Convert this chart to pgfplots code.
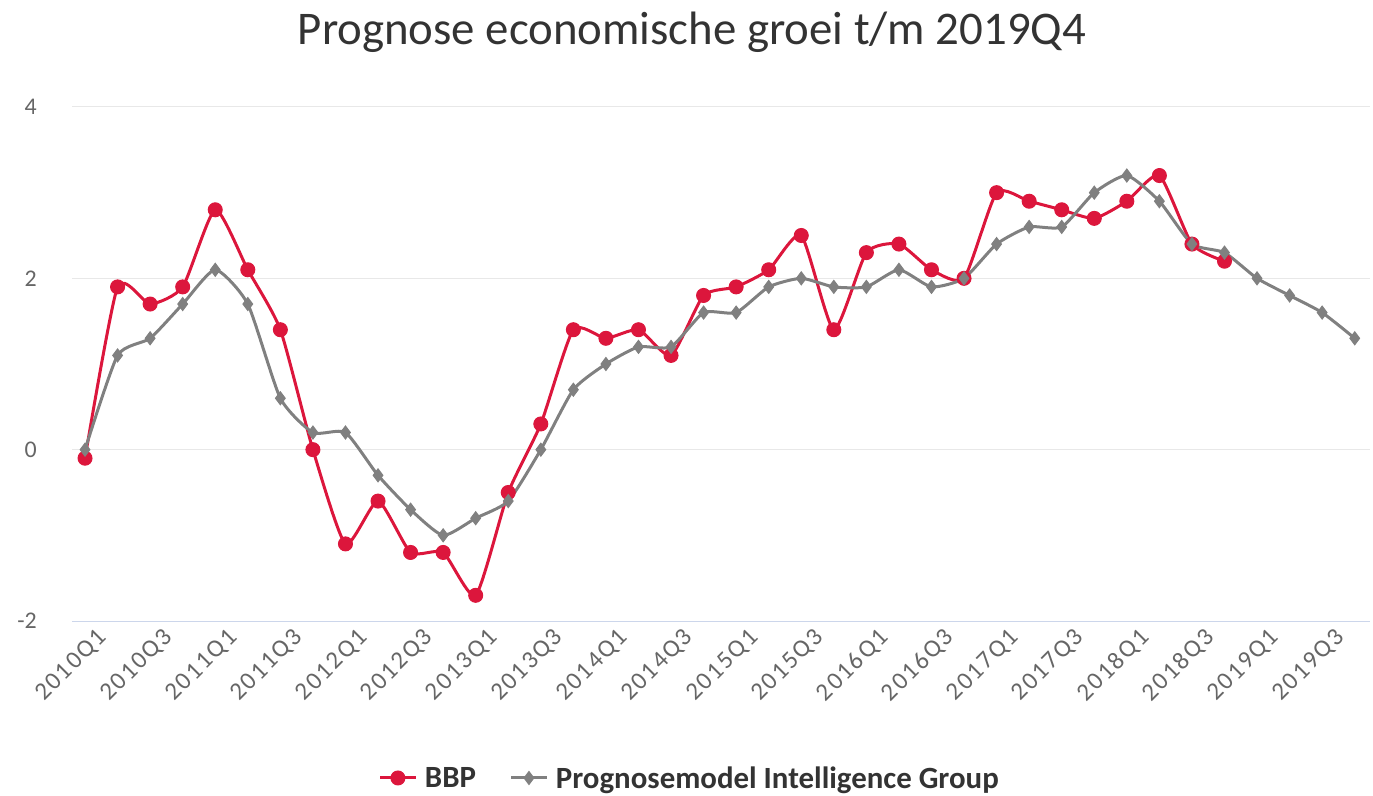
\documentclass[border=0pt]{standalone}
\usepackage{pgfplots}
\pgfplotsset{compat=1.18}
\usepackage{fontspec}
\setmainfont{Carlito}
\definecolor{bbp}{RGB}{220,22,60}
\definecolor{pm}{RGB}{128,128,128}
\definecolor{gridc}{RGB}{232,232,232}
\definecolor{axisc}{RGB}{204,214,235}
\definecolor{lab}{RGB}{102,102,102}
\definecolor{titc}{RGB}{51,51,51}
\begin{document}
\begin{tikzpicture}
\path[use as bounding box] (-72bp,-175bp) rectangle (1301bp,621bp);
\begin{axis}[at={(0,0)}, anchor=south west, scale only axis,
  width=1298bp, height=514bp,
  xmin=-0.4, xmax=39.47, ymin=-2, ymax=4,
  ytick={-2,0,2,4}, yticklabels={-2,0,2,4},
  xtick={0,2,...,38},
  xticklabels={2010Q1,2010Q3,2011Q1,2011Q3,2012Q1,2012Q3,2013Q1,2013Q3,2014Q1,2014Q3,2015Q1,2015Q3,2016Q1,2016Q3,2017Q1,2017Q3,2018Q1,2018Q3,2019Q1,2019Q3},
  axis x line*=bottom, axis y line*=left,
  y axis line style={draw=none},
  x axis line style={draw=axisc, line width=1bp, -},
  major tick length=0pt,
  tick style={draw=none},
  ymajorgrids, grid style={gridc, line width=1bp},
  yticklabel style={font=\fontsize{24}{24}\selectfont, text=lab, anchor=east, inner sep=0pt, xshift=-35bp},
  xticklabel style={font=\fontsize{25}{25}\selectfont\addfontfeature{LetterSpace=8}, text=lab, rotate=45, anchor=east, inner sep=0pt, yshift=-22bp, xshift=4bp},
  legend style={at={(axis description cs:0.476,-0.3054)}, anchor=center, draw=none, fill=none,
    legend columns=2, font=\bfseries\fontsize{31}{31}\selectfont, text=titc,
    /tikz/every odd column/.style={column sep=6bp},
    /tikz/every even column/.style={column sep=32bp}},
  legend cell align=left,
  legend image code/.code={\draw[mark repeat=2, mark phase=2, #1] plot coordinates {(0bp,0bp) (17.5bp,0bp) (35bp,0bp)};},
  clip=false,
]
\addplot[bbp, line width=3bp, smooth, tension=0.35, mark=*, mark size=7bp, mark options={solid, fill=bbp, draw=bbp, line width=1bp}] table {
0 -0.1
1 1.9
2 1.7
3 1.9
4 2.8
5 2.1
6 1.4
7 0.0
8 -1.1
9 -0.6
10 -1.2
11 -1.2
12 -1.7
13 -0.5
14 0.3
15 1.4
16 1.3
17 1.4
18 1.1
19 1.8
20 1.9
21 2.1
22 2.5
23 1.4
24 2.3
25 2.4
26 2.1
27 2.0
28 3.0
29 2.9
30 2.8
31 2.7
32 2.9
33 3.2
34 2.4
35 2.2
};
\addlegendentry{BBP}
\addplot[pm, line width=3bp, smooth, tension=0.35, mark=diamond*, mark size=6.5bp, mark options={solid, fill=pm, draw=pm, line width=1bp}] table {
0 0.0
1 1.1
2 1.3
3 1.7
4 2.1
5 1.7
6 0.6
7 0.2
8 0.2
9 -0.3
10 -0.7
11 -1.0
12 -0.8
13 -0.6
14 0.0
15 0.7
16 1.0
17 1.2
18 1.2
19 1.6
20 1.6
21 1.9
22 2.0
23 1.9
24 1.9
25 2.1
26 1.9
27 2.0
28 2.4
29 2.6
30 2.6
31 3.0
32 3.2
33 2.9
34 2.4
35 2.3
36 2.0
37 1.8
38 1.6
39 1.3
};
\addlegendentry{Prognosemodel Intelligence Group}
\end{axis}
\node[font=\fontsize{47}{47}\selectfont, text=titc, anchor=base] at (620bp,576bp) {Prognose economische groei t/m 2019Q4};
\end{tikzpicture}
\end{document}
